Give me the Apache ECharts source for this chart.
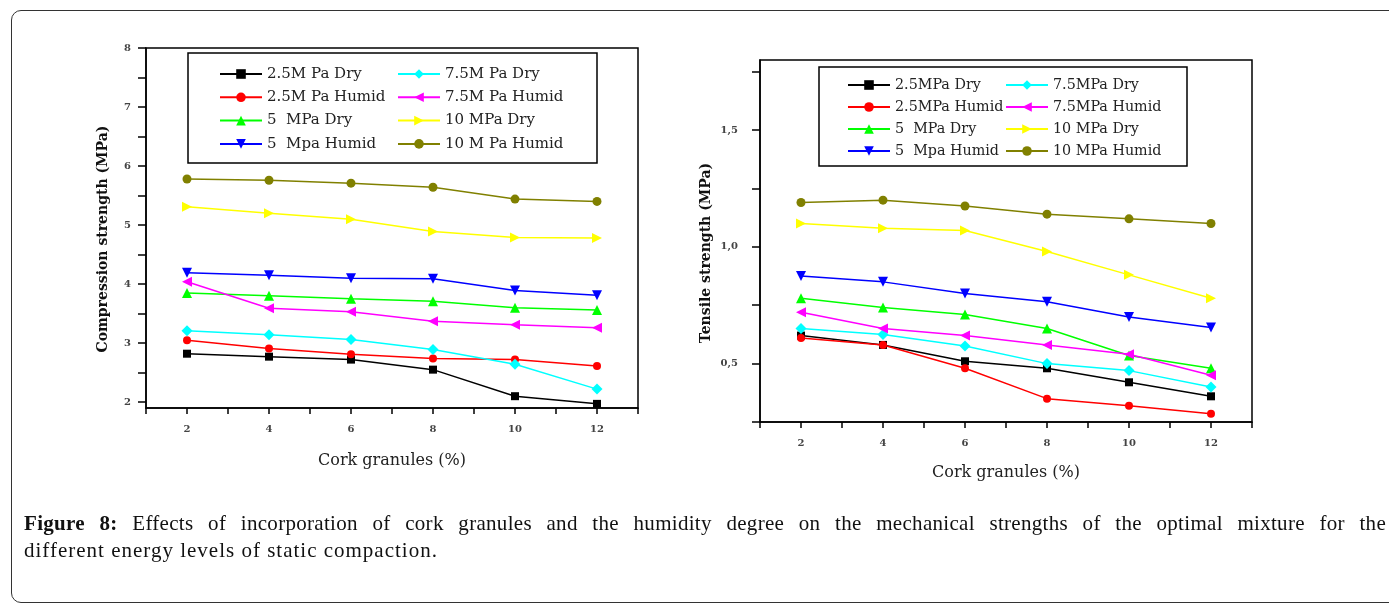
<!DOCTYPE html>
<html>
<head>
<meta charset="utf-8">
<script src="https://cdn.jsdelivr.net/npm/echarts@6.0.0/dist/echarts.min.js"></script>
<style>
    html, body { margin: 0; padding: 0; background: #fff; }
    #wrap { position: relative; width: 1389px; height: 604px; overflow: hidden; }
    #chart { position: absolute; left: 0; top: 0; width: 1389px; height: 604px; }
    #frame {
        position: absolute; left: 11px; top: 10px; width: 1400px; height: 591px;
        border: 1.5px solid #333; border-radius: 10px; pointer-events: none;
    }
    #caption {
        position: absolute; left: 24px; top: 510px; width: 1362px;
        font-family: 'Liberation Serif', serif; font-size: 21px; color: #111;
        letter-spacing: 1px; line-height: 27px;
    }
    #caption .l1 { text-align: justify; text-align-last: justify; letter-spacing: 0.3px; }
</style>
</head>
<body>
<div id="wrap">
    <div id="chart"></div>
    <div id="frame"></div>
    <div id="caption">
        <div class="l1"><b>Figure 8:</b> Effects of incorporation of cork granules and the humidity degree on the mechanical strengths of the optimal mixture for the</div>
        <div>different energy levels of static compaction.</div>
    </div>
</div>
<script>
// cork granules (%)
const xVals = [2, 4, 6, 8, 10, 12];

// compression strength (MPa)
const c25Dry = [2.82, 2.77, 2.72, 2.55, 2.10, 1.97];
const c25Hum = [3.05, 2.91, 2.81, 2.74, 2.72, 2.61];
const c5Dry = [3.85, 3.80, 3.75, 3.71, 3.60, 3.56];
const c5Hum = [4.19, 4.15, 4.10, 4.09, 3.89, 3.81];
const c75Dry = [3.21, 3.14, 3.06, 2.89, 2.64, 2.22];
const c75Hum = [4.04, 3.59, 3.53, 3.37, 3.31, 3.26];
const c10Dry = [5.31, 5.20, 5.10, 4.89, 4.79, 4.78];
const c10Hum = [5.78, 5.76, 5.71, 5.64, 5.44, 5.40];

// tensile strength (MPa)
const t25Dry = [0.62, 0.58, 0.51, 0.48, 0.42, 0.36];
const t25Hum = [0.61, 0.58, 0.48, 0.35, 0.32, 0.285];
const t5Dry = [0.78, 0.74, 0.71, 0.65, 0.535, 0.48];
const t5Hum = [0.875, 0.85, 0.80, 0.765, 0.70, 0.655];
const t75Dry = [0.65, 0.625, 0.575, 0.50, 0.47, 0.40];
const t75Hum = [0.72, 0.65, 0.62, 0.58, 0.54, 0.45];
const t10Dry = [1.10, 1.08, 1.07, 0.98, 0.88, 0.78];
const t10Hum = [1.19, 1.20, 1.175, 1.14, 1.12, 1.10];

// legend names, in legend order (column 1 then column 2)
const cNames1 = ['2.5M Pa Dry', '2.5M Pa Humid', '5  MPa Dry', '5  Mpa Humid'];
const cNames2 = ['7.5M Pa Dry', '7.5M Pa Humid', '10 MPa Dry', '10 M Pa Humid'];
const tNames1 = ['2.5MPa Dry', '2.5MPa Humid', '5  MPa Dry', '5  Mpa Humid'];
const tNames2 = ['7.5MPa Dry', '7.5MPa Humid', '10 MPa Dry', '10 MPa Humid'];

// tick values
const cTicks = [2, 2.5, 3, 3.5, 4, 4.5, 5, 5.5, 6, 6.5, 7, 7.5, 8];
const cLabels = [2, 3, 4, 5, 6, 7, 8];
const tTicks = [0.25, 0.5, 0.75, 1.0, 1.25, 1.5, 1.75];
const tLabels = [0.5, 1.0, 1.5];

const styles = {
    d25: { color: '#000000', symbol: 'rect', size: 8, rotate: 0 },
    h25: { color: '#ff0000', symbol: 'circle', size: 8, rotate: 0 },
    d5: { color: '#00ff00', symbol: 'triangle', size: 10, rotate: 0 },
    h5: { color: '#0000ff', symbol: 'triangle', size: 10, rotate: 180 },
    d75: { color: '#00ffff', symbol: 'diamond', size: 11, rotate: 0 },
    h75: { color: '#ff00ff', symbol: 'triangle', size: 10, rotate: 90 },
    d10: { color: '#ffff00', symbol: 'triangle', size: 10, rotate: -90 },
    h10: { color: '#808000', symbol: 'circle', size: 9, rotate: 0 }
};

function makeSeries(name, values, st, idx) {
    return {
        name: name,
        type: 'line',
        xAxisIndex: idx,
        yAxisIndex: idx,
        data: xVals.map((x, i) => [x, values[i]]),
        symbol: st.symbol,
        symbolSize: st.size,
        symbolRotate: st.rotate,
        lineStyle: { color: st.color, width: 1.5 },
        itemStyle: { color: st.color },
        animation: false
    };
}

function legendCol(names, left, top, gap, size) {
    return {
        orient: 'vertical',
        left: left,
        top: top,
        padding: 0,
        itemGap: gap,
        itemWidth: 42,
        itemHeight: 12,
        selectedMode: false,
        textStyle: { fontFamily: 'DejaVu Serif', fontSize: size, color: '#222', lineHeight: 16 },
        data: names
    };
}

const tickFont = { fontFamily: 'DejaVu Serif', fontSize: 10, fontWeight: 'bold', color: '#444' };
const axisBlack = { lineStyle: { color: '#000', width: 1.5 } };

function xAxisFor(idx) {
    return {
        type: 'value',
        gridIndex: idx,
        min: 1,
        max: 13,
        interval: 1,
        name: 'Cork granules (%)',
        nameLocation: 'middle',
        nameGap: idx === 0 ? 45 : 43,
        nameTextStyle: { fontFamily: 'DejaVu Serif', fontSize: 16, color: '#222' },
        axisLine: axisBlack,
        axisTick: { length: 6, lineStyle: { color: '#000', width: 1.5 } },
        axisLabel: Object.assign({ margin: 16, formatter: v => (v % 2 === 0 ? String(v) : '') }, tickFont),
        splitLine: { show: false }
    };
}

const chart = echarts.init(document.getElementById('chart'));

chart.setOption({
    backgroundColor: 'transparent',
    grid: [
        { left: 146, top: 48, width: 492, height: 360, show: true, borderColor: '#000', borderWidth: 1.5 },
        { left: 760, top: 60, width: 492, height: 362, show: true, borderColor: '#000', borderWidth: 1.5 }
    ],
    xAxis: [xAxisFor(0), xAxisFor(1)],
    yAxis: [
        {
            type: 'value',
            gridIndex: 0,
            min: 1.9,
            max: 8,
            name: 'Compression strength (MPa)',
            nameLocation: 'middle',
            nameGap: 36,
            nameTextStyle: { fontFamily: 'DejaVu Serif', fontSize: 14, fontWeight: 'bold', color: '#111', padding: [0, 22, 0, 0] },
            axisLine: axisBlack,
            axisTick: { length: 8, customValues: cTicks, lineStyle: { color: '#000', width: 1.5 } },
            axisLabel: Object.assign({ margin: 15, customValues: cLabels }, tickFont),
            splitLine: { show: false }
        },
        {
            type: 'value',
            gridIndex: 1,
            min: 0.25,
            max: 1.8,
            name: 'Tensile strength (MPa)',
            nameLocation: 'middle',
            nameGap: 47,
            nameTextStyle: { fontFamily: 'DejaVu Serif', fontSize: 14, fontWeight: 'bold', color: '#111', padding: [0, 24, 0, 0] },
            axisLine: axisBlack,
            axisTick: { length: 8, customValues: tTicks, lineStyle: { color: '#000', width: 1.5 } },
            axisLabel: Object.assign({
                margin: 22,
                customValues: tLabels,
                formatter: v => v.toFixed(1).replace('.', ',')
            }, tickFont),
            splitLine: { show: false }
        }
    ],
    legend: [
        legendCol(cNames1, 219, 66, 7.3, 15),
        legendCol(cNames2, 397, 66, 7.3, 15),
        legendCol(tNames1, 847, 77, 6, 14.3),
        legendCol(tNames2, 1005, 77, 6, 14.3)
    ],
    graphic: [
        { type: 'rect', shape: { x: 188, y: 53, width: 409, height: 110 }, style: { fill: 'none', stroke: '#000', lineWidth: 1.5 } },
        { type: 'rect', shape: { x: 819, y: 67, width: 368, height: 99 }, style: { fill: 'none', stroke: '#000', lineWidth: 1.5 } }
    ],
    series: [
        makeSeries(cNames1[0], c25Dry, styles.d25, 0),
        makeSeries(cNames1[1], c25Hum, styles.h25, 0),
        makeSeries(cNames1[2], c5Dry, styles.d5, 0),
        makeSeries(cNames1[3], c5Hum, styles.h5, 0),
        makeSeries(cNames2[0], c75Dry, styles.d75, 0),
        makeSeries(cNames2[1], c75Hum, styles.h75, 0),
        makeSeries(cNames2[2], c10Dry, styles.d10, 0),
        makeSeries(cNames2[3], c10Hum, styles.h10, 0),
        makeSeries(tNames1[0], t25Dry, styles.d25, 1),
        makeSeries(tNames1[1], t25Hum, styles.h25, 1),
        makeSeries(tNames1[2], t5Dry, styles.d5, 1),
        makeSeries(tNames1[3], t5Hum, styles.h5, 1),
        makeSeries(tNames2[0], t75Dry, styles.d75, 1),
        makeSeries(tNames2[1], t75Hum, styles.h75, 1),
        makeSeries(tNames2[2], t10Dry, styles.d10, 1),
        makeSeries(tNames2[3], t10Hum, styles.h10, 1)
    ]
});
</script>
</body>
</html>
